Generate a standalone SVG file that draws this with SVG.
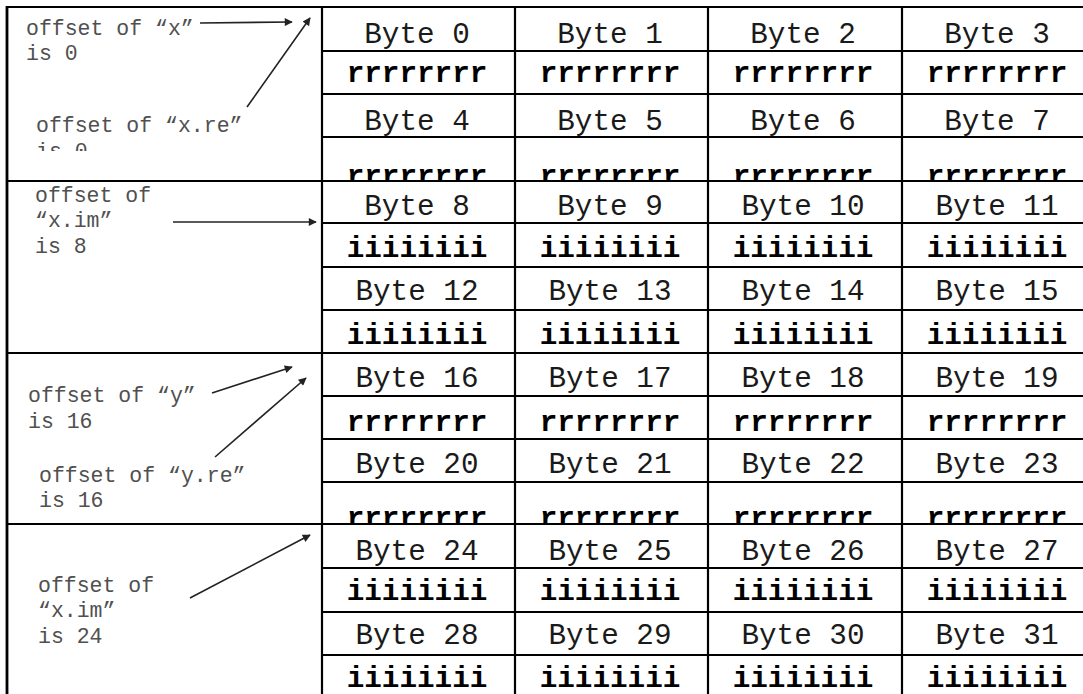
<svg xmlns="http://www.w3.org/2000/svg" width="1083" height="694" viewBox="0 0 1083 694">
<style>
.bl{font-family:"Liberation Mono","Courier New",monospace;font-size:29.3px;fill:#1a1a1a;text-anchor:middle}
.bd{font-family:"Liberation Mono","Courier New",monospace;font-size:29.3px;font-weight:bold;fill:#000;text-anchor:middle}
.lb{font-family:"Liberation Mono","Courier New",monospace;font-size:21.5px;fill:#505050}
.g{stroke:#000;stroke-width:2.2;fill:none}
.ar{stroke:#222;stroke-width:1.6;fill:none;marker-end:url(#ah)}
</style>
<defs>
<marker id="ah" viewBox="0 0 10 10" refX="9" refY="5" markerWidth="10" markerHeight="8" markerUnits="userSpaceOnUse" orient="auto">
<path d="M0,0 L10,5 L0,10 z" fill="#222"/>
</marker>
<clipPath id="c1"><rect x="322" y="137" width="761" height="43"/></clipPath>
<clipPath id="c2"><rect x="322" y="482" width="761" height="41.5"/></clipPath>
<clipPath id="c3"><rect x="0" y="110" width="320" height="41"/></clipPath>
</defs>
<rect x="0" y="0" width="1083" height="694" fill="#fff"/>

<g id="grid">
<line class="g" x1="6" y1="7" x2="1083" y2="7"/>
<line class="g" x1="6" y1="181" x2="1083" y2="181"/>
<line class="g" x1="6" y1="353" x2="1083" y2="353"/>
<line class="g" x1="6" y1="524" x2="1083" y2="524"/>
<line class="g" x1="322" y1="51" x2="1083" y2="51"/>
<line class="g" x1="322" y1="94" x2="1083" y2="94"/>
<line class="g" x1="322" y1="137" x2="1083" y2="137"/>
<line class="g" x1="322" y1="223" x2="1083" y2="223"/>
<line class="g" x1="322" y1="267" x2="1083" y2="267"/>
<line class="g" x1="322" y1="310" x2="1083" y2="310"/>
<line class="g" x1="322" y1="396" x2="1083" y2="396"/>
<line class="g" x1="322" y1="439" x2="1083" y2="439"/>
<line class="g" x1="322" y1="482" x2="1083" y2="482"/>
<line class="g" x1="322" y1="568" x2="1083" y2="568"/>
<line class="g" x1="322" y1="612" x2="1083" y2="612"/>
<line class="g" x1="322" y1="655" x2="1083" y2="655"/>
<line class="g" x1="7" y1="6" x2="7" y2="694" style="stroke-width:2.8"/>
<line class="g" x1="322" y1="6" x2="322" y2="694"/>
<line class="g" x1="515" y1="6" x2="515" y2="694"/>
<line class="g" x1="708" y1="6" x2="708" y2="694"/>
<line class="g" x1="902" y1="6" x2="902" y2="694"/>
</g>

<g id="label-x">
<text class="lb" x="26" y="35">offset of “x”</text>
<text class="lb" x="26" y="60">is 0</text>
</g>
<g id="label-xre" clip-path="url(#c3)">
<text class="lb" x="36" y="132">offset of “x.re”</text>
<text class="lb" x="36" y="158">is 0</text>
</g>
<g id="label-xim">
<text class="lb" x="35" y="202">offset of</text>
<text class="lb" x="35" y="227">“x.im”</text>
<text class="lb" x="35" y="253">is 8</text>
</g>
<g id="label-y">
<text class="lb" x="28" y="402">offset of “y”</text>
<text class="lb" x="28" y="428">is 16</text>
</g>
<g id="label-yre">
<text class="lb" x="39" y="482">offset of “y.re”</text>
<text class="lb" x="39" y="507">is 16</text>
</g>
<g id="label-yim">
<text class="lb" x="38" y="592">offset of</text>
<text class="lb" x="38" y="617">“x.im”</text>
<text class="lb" x="38" y="643">is 24</text>
</g>

<g id="connectors">
<line class="ar" x1="200" y1="23" x2="292" y2="22"/>
<line class="ar" x1="247" y1="107" x2="310" y2="18"/>
<line class="ar" x1="173" y1="222" x2="316" y2="222"/>
<line class="ar" x1="212" y1="393" x2="292" y2="367"/>
<line class="ar" x1="215" y1="457" x2="306" y2="378"/>
<line class="ar" x1="190" y1="598" x2="310" y2="535"/>
</g>

<g id="byte0"><text class="bl" x="417" y="43">Byte 0</text><text class="bd" x="417" y="82">rrrrrrrr</text></g>
<g id="byte1"><text class="bl" x="610" y="43">Byte 1</text><text class="bd" x="610" y="82">rrrrrrrr</text></g>
<g id="byte2"><text class="bl" x="803" y="43">Byte 2</text><text class="bd" x="803" y="82">rrrrrrrr</text></g>
<g id="byte3"><text class="bl" x="997" y="43">Byte 3</text><text class="bd" x="997" y="82">rrrrrrrr</text></g>
<g id="byte4"><text class="bl" x="417" y="130">Byte 4</text><text class="bd" x="417" y="185" clip-path="url(#c1)">rrrrrrrr</text></g>
<g id="byte5"><text class="bl" x="610" y="130">Byte 5</text><text class="bd" x="610" y="185" clip-path="url(#c1)">rrrrrrrr</text></g>
<g id="byte6"><text class="bl" x="803" y="130">Byte 6</text><text class="bd" x="803" y="185" clip-path="url(#c1)">rrrrrrrr</text></g>
<g id="byte7"><text class="bl" x="997" y="130">Byte 7</text><text class="bd" x="997" y="185" clip-path="url(#c1)">rrrrrrrr</text></g>
<g id="byte8"><text class="bl" x="417" y="215">Byte 8</text><text class="bd" x="417" y="257">iiiiiiii</text></g>
<g id="byte9"><text class="bl" x="610" y="215">Byte 9</text><text class="bd" x="610" y="257">iiiiiiii</text></g>
<g id="byte10"><text class="bl" x="803" y="215">Byte 10</text><text class="bd" x="803" y="257">iiiiiiii</text></g>
<g id="byte11"><text class="bl" x="997" y="215">Byte 11</text><text class="bd" x="997" y="257">iiiiiiii</text></g>
<g id="byte12"><text class="bl" x="417" y="300">Byte 12</text><text class="bd" x="417" y="344">iiiiiiii</text></g>
<g id="byte13"><text class="bl" x="610" y="300">Byte 13</text><text class="bd" x="610" y="344">iiiiiiii</text></g>
<g id="byte14"><text class="bl" x="803" y="300">Byte 14</text><text class="bd" x="803" y="344">iiiiiiii</text></g>
<g id="byte15"><text class="bl" x="997" y="300">Byte 15</text><text class="bd" x="997" y="344">iiiiiiii</text></g>
<g id="byte16"><text class="bl" x="417" y="387">Byte 16</text><text class="bd" x="417" y="431">rrrrrrrr</text></g>
<g id="byte17"><text class="bl" x="610" y="387">Byte 17</text><text class="bd" x="610" y="431">rrrrrrrr</text></g>
<g id="byte18"><text class="bl" x="803" y="387">Byte 18</text><text class="bd" x="803" y="431">rrrrrrrr</text></g>
<g id="byte19"><text class="bl" x="997" y="387">Byte 19</text><text class="bd" x="997" y="431">rrrrrrrr</text></g>
<g id="byte20"><text class="bl" x="417" y="473">Byte 20</text><text class="bd" x="417" y="527" clip-path="url(#c2)">rrrrrrrr</text></g>
<g id="byte21"><text class="bl" x="610" y="473">Byte 21</text><text class="bd" x="610" y="527" clip-path="url(#c2)">rrrrrrrr</text></g>
<g id="byte22"><text class="bl" x="803" y="473">Byte 22</text><text class="bd" x="803" y="527" clip-path="url(#c2)">rrrrrrrr</text></g>
<g id="byte23"><text class="bl" x="997" y="473">Byte 23</text><text class="bd" x="997" y="527" clip-path="url(#c2)">rrrrrrrr</text></g>
<g id="byte24"><text class="bl" x="417" y="560">Byte 24</text><text class="bd" x="417" y="600">iiiiiiii</text></g>
<g id="byte25"><text class="bl" x="610" y="560">Byte 25</text><text class="bd" x="610" y="600">iiiiiiii</text></g>
<g id="byte26"><text class="bl" x="803" y="560">Byte 26</text><text class="bd" x="803" y="600">iiiiiiii</text></g>
<g id="byte27"><text class="bl" x="997" y="560">Byte 27</text><text class="bd" x="997" y="600">iiiiiiii</text></g>
<g id="byte28"><text class="bl" x="417" y="644">Byte 28</text><text class="bd" x="417" y="687">iiiiiiii</text></g>
<g id="byte29"><text class="bl" x="610" y="644">Byte 29</text><text class="bd" x="610" y="687">iiiiiiii</text></g>
<g id="byte30"><text class="bl" x="803" y="644">Byte 30</text><text class="bd" x="803" y="687">iiiiiiii</text></g>
<g id="byte31"><text class="bl" x="997" y="644">Byte 31</text><text class="bd" x="997" y="687">iiiiiiii</text></g>
</svg>
